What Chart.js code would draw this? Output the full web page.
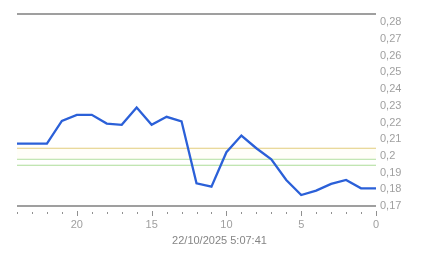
<!DOCTYPE html>
<html>
<head>
<meta charset="utf-8">
<script src="https://cdn.jsdelivr.net/npm/chart.js@4"></script>
<style>
  body { margin: 0; background: #ffffff; }
  canvas { display: block; }
</style>
</head>
<body>
<canvas id="chart" width="443" height="258"></canvas>
<script>
// hours back from the timestamp (left = 24, right = 0)
const hours = [24, 23, 22, 21, 20, 19, 18, 17, 16, 15, 14, 13, 12, 11, 10, 9, 8, 7, 6, 5, 4, 3, 2, 1, 0];
const prices = [0.2074, 0.2074, 0.2074, 0.2210, 0.2246, 0.2246, 0.2194, 0.2186, 0.2290, 0.2186,
                0.2234, 0.2207, 0.1836, 0.1816, 0.2022, 0.2122, 0.2046, 0.1980, 0.1856, 0.1766,
                0.1792, 0.1832, 0.1856, 0.1806, 0.1806];
// reference levels: yellow, green, green
const refLevels = [0.2046, 0.1980, 0.1944];
const yTicks = [0.17, 0.18, 0.19, 0.20, 0.21, 0.22, 0.23, 0.24, 0.25, 0.26, 0.27, 0.28];
const xLabelTicks = [0, 5, 10, 15, 20];
const stamp = '22/10/2025 5:07:41';

Chart.defaults.font.family = '"Liberation Sans", Arial, sans-serif';
Chart.defaults.font.size = 11;

function levelLine(value) {
    return [{ x: hours[0], y: value }, { x: hours[hours.length - 1], y: value }];
}

// extra lines: top border, x axis line, the little tick marks and the time stamp
const framePlugin = {
    id: 'frame',
    afterDraw(chart) {
        const ctx = chart.ctx;
        const area = chart.chartArea;
        const xs = chart.scales.x;
        ctx.save();
        ctx.strokeStyle = '#808080';
        ctx.lineWidth = 1.5;
        ctx.beginPath();
        ctx.moveTo(area.left, area.top);
        ctx.lineTo(area.right, area.top);
        ctx.moveTo(area.left, area.bottom);
        ctx.lineTo(area.right, area.bottom);
        ctx.stroke();
        ctx.fillStyle = '#909090';
        hours.forEach(function (h) {
            const px = Math.round(xs.getPixelForValue(h));
            if (xLabelTicks.includes(h)) {
                ctx.fillRect(px, area.bottom + 5, 1, 5);
            } else {
                ctx.fillRect(px, area.bottom + 6, 1, 2);
            }
        });
        // time stamp, centred on the whole picture
        ctx.fillStyle = '#858585';
        ctx.font = '11px "Liberation Sans", Arial, sans-serif';
        ctx.textAlign = 'center';
        ctx.textBaseline = 'middle';
        ctx.fillText(stamp, chart.width / 2 - 2, xs.bottom - 17);
        ctx.restore();
    }
};

const ctx = document.getElementById('chart').getContext('2d');
const chart = new Chart(ctx, {
    type: 'line',
    data: {
        datasets: [
            {
                label: 'price',
                data: hours.map(function (h, i) { return { x: h, y: prices[i] }; }),
                borderColor: '#2b60d8',
                borderWidth: 2.3,
                pointRadius: 0,
                tension: 0,
                fill: false
            },
            {
                label: 'level 1',
                data: levelLine(refLevels[0]),
                borderColor: '#e2cc7c',
                borderWidth: 1.2,
                pointRadius: 0,
                fill: '+1',
                backgroundColor: 'rgba(255, 252, 220, 0.2)'
            },
            {
                label: 'level 2',
                data: levelLine(refLevels[1]),
                borderColor: '#acdc98',
                borderWidth: 1.2,
                pointRadius: 0,
                fill: false
            },
            {
                label: 'level 3',
                data: levelLine(refLevels[2]),
                borderColor: '#acdc98',
                borderWidth: 1.2,
                pointRadius: 0,
                fill: false
            }
        ]
    },
    options: {
        responsive: false,
        animation: false,
        layout: {
            padding: { left: 17, top: 14, right: 0, bottom: 0 }
        },
        scales: {
            x: {
                type: 'linear',
                reverse: true,
                min: 0,
                max: 24,
                grid: { display: false },
                border: { display: false },
                afterBuildTicks: function (scale) {
                    scale.ticks = xLabelTicks.map(function (v) { return { value: v }; });
                },
                ticks: {
                    padding: 4,
                    color: '#a0a0a0',
                    maxRotation: 0,
                    autoSkip: false,
                    callback: function (value) { return String(value); }
                },
                afterFit: function (scale) { scale.height = 52; }
            },
            y: {
                position: 'right',
                min: 0.17,
                max: 0.285,
                grid: { display: false, drawTicks: false },
                border: { display: false },
                afterBuildTicks: function (scale) {
                    scale.ticks = yTicks.map(function (v) { return { value: v }; });
                },
                ticks: {
                    padding: 4,
                    color: '#a0a0a0',
                    autoSkip: false,
                    callback: function (value) {
                        return String(+value.toFixed(2)).replace('.', ',');
                    }
                },
                afterFit: function (scale) { scale.width = 67; }
            }
        },
        plugins: {
            legend: { display: false },
            tooltip: { enabled: false }
        }
    },
    plugins: [framePlugin]
});
</script>
</body>
</html>
